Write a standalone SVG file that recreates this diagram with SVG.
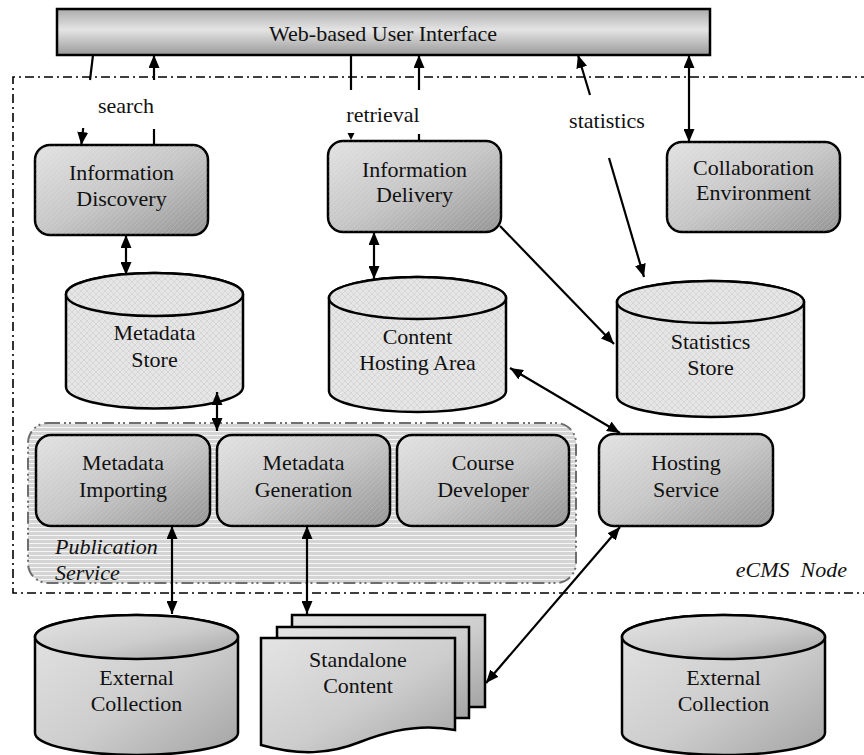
<svg xmlns="http://www.w3.org/2000/svg" width="864" height="755" viewBox="0 0 864 755">
<style>
  text { font-family: "Liberation Serif", "Times New Roman", serif; font-size: 22px; fill: #111; }
  .c { text-anchor: middle; }
  .it { font-style: italic; }
  .box { fill: url(#boxGrad); stroke: #000; stroke-width: 2.5; }
  .cyl { fill: url(#cylPat); stroke: #000; stroke-width: 2.5; }
  .ext { fill: url(#extGrad); stroke: #000; stroke-width: 2.5; }
  .hatch { fill: url(#diag); stroke: none; pointer-events: none; }
  .ln { stroke: #000; stroke-width: 2.2; fill: none; }
  .a1 { marker-end: url(#arr); }
  .a2 { marker-start: url(#arr); marker-end: url(#arr); }
</style>
<defs>
  <linearGradient id="boxGrad" x1="0" y1="0" x2="1" y2="1">
    <stop offset="0" stop-color="#e2e2e2"/>
    <stop offset="0.5" stop-color="#c6c6c6"/>
    <stop offset="1" stop-color="#959595"/>
  </linearGradient>
  <linearGradient id="extGrad" x1="0" y1="0" x2="1" y2="1">
    <stop offset="0" stop-color="#e4e4e4"/>
    <stop offset="0.55" stop-color="#cdcdcd"/>
    <stop offset="1" stop-color="#a4a4a4"/>
  </linearGradient>
  <linearGradient id="barGrad" x1="0" y1="0" x2="0" y2="1">
    <stop offset="0" stop-color="#ababab"/>
    <stop offset="0.45" stop-color="#e4e4e4"/>
    <stop offset="1" stop-color="#9a9a9a"/>
  </linearGradient>
  <pattern id="cylPat" width="6" height="6" patternUnits="userSpaceOnUse">
    <rect width="6" height="6" fill="#e6e6e6"/>
    <path d="M0,0 L6,6 M6,0 L0,6" stroke="#d2d2d2" stroke-width="0.8"/>
  </pattern>
  <pattern id="diag" width="5" height="5" patternUnits="userSpaceOnUse">
    <path d="M0,5 L5,0" stroke="#ffffff" stroke-opacity="0.18" stroke-width="0.8"/>
  </pattern>
  <pattern id="stripes" width="4" height="4" patternUnits="userSpaceOnUse">
    <rect width="4" height="4" fill="#d4d4d4"/>
    <rect y="3" width="4" height="1" fill="#f6f6f6"/>
  </pattern>
  <marker id="arr" markerUnits="userSpaceOnUse" markerWidth="13" markerHeight="11" viewBox="0 0 13 11" refX="13" refY="5.5" orient="auto-start-reverse">
    <path d="M0,0 L13,5.5 L0,11 Z" fill="#000"/>
  </marker>
</defs>

<rect width="864" height="755" fill="#fff"/>

<!-- eCMS Node boundary -->
<g id="ecms-node">
  <path d="M870,77 H13 V593 H870" fill="none" stroke="#000" stroke-width="1.6" stroke-dasharray="9,4,2,4"/>
  <text x="847" y="577" text-anchor="end" class="it" xml:space="preserve">eCMS  Node</text>
</g>

<!-- Publication Service group -->
<g id="publication-service">
  <rect x="28" y="423" width="548" height="160" rx="20" fill="url(#stripes)" stroke="#6e6e6e" stroke-width="2" stroke-dasharray="12,4,2,3,2,4"/>
  <text x="55" y="554" class="it">Publication</text>
  <text x="55" y="580" class="it">Service</text>
</g>

<!-- Web-based User Interface -->
<g id="web-ui">
  <rect x="57" y="9" width="653" height="46" fill="url(#barGrad)" stroke="#000" stroke-width="2.5"/>
  <text x="383" y="41" class="c">Web-based User Interface</text>
</g>

<g id="information-discovery">
  <rect x="35" y="145" width="173" height="90" rx="15" class="box"/>
  <rect x="35" y="145" width="173" height="90" rx="15" class="hatch"/>
  <text x="121.5" y="180" class="c">Information</text>
  <text x="121.5" y="206" class="c">Discovery</text>
</g>

<g id="information-delivery">
  <rect x="328" y="141" width="173" height="91" rx="15" class="box"/>
  <rect x="328" y="141" width="173" height="91" rx="15" class="hatch"/>
  <text x="414.5" y="177" class="c">Information</text>
  <text x="414.5" y="202" class="c">Delivery</text>
</g>

<g id="collaboration-environment">
  <rect x="667" y="142" width="173" height="90" rx="15" class="box"/>
  <rect x="667" y="142" width="173" height="90" rx="15" class="hatch"/>
  <text x="753.5" y="175" class="c">Collaboration</text>
  <text x="753.5" y="200" class="c">Environment</text>
</g>

<g id="metadata-store">
  <path d="M66,294.5 V387 A88.5,21.5 0 0 0 243,387 V294.5 A88.5,21.5 0 0 0 66,294.5 Z" class="cyl"/>
  <ellipse cx="154.5" cy="294.5" rx="88.5" ry="21.5" class="cyl"/>
  <text x="154.5" y="340" class="c">Metadata</text>
  <text x="154.5" y="367" class="c">Store</text>
</g>

<g id="content-hosting-area">
  <path d="M329,298 V391 A88.5,21 0 0 0 506,391 V298 A88.5,21 0 0 0 329,298 Z" class="cyl"/>
  <ellipse cx="417.5" cy="298" rx="88.5" ry="21" class="cyl"/>
  <text x="417.5" y="344" class="c">Content</text>
  <text x="417.5" y="370" class="c">Hosting Area</text>
</g>

<g id="statistics-store">
  <path d="M617,302 V396 A93.5,21 0 0 0 804,396 V302 A93.5,21 0 0 0 617,302 Z" class="cyl"/>
  <ellipse cx="710.5" cy="302" rx="93.5" ry="21" class="cyl"/>
  <text x="710.5" y="349" class="c">Statistics</text>
  <text x="710.5" y="375" class="c">Store</text>
</g>

<g id="metadata-importing">
  <rect x="36" y="435" width="174" height="91" rx="15" class="box"/>
  <rect x="36" y="435" width="174" height="91" rx="15" class="hatch"/>
  <text x="123" y="470" class="c">Metadata</text>
  <text x="123" y="497" class="c">Importing</text>
</g>

<g id="metadata-generation">
  <rect x="217" y="435" width="173" height="91" rx="15" class="box"/>
  <rect x="217" y="435" width="173" height="91" rx="15" class="hatch"/>
  <text x="303.5" y="470" class="c">Metadata</text>
  <text x="303.5" y="497" class="c">Generation</text>
</g>

<g id="course-developer">
  <rect x="397" y="435" width="172" height="91" rx="15" class="box"/>
  <rect x="397" y="435" width="172" height="91" rx="15" class="hatch"/>
  <text x="483" y="470" class="c">Course</text>
  <text x="483" y="497" class="c">Developer</text>
</g>

<g id="hosting-service">
  <rect x="599" y="434" width="174" height="92" rx="15" class="box"/>
  <rect x="599" y="434" width="174" height="92" rx="15" class="hatch"/>
  <text x="686" y="470" class="c">Hosting</text>
  <text x="686" y="497" class="c">Service</text>
</g>

<g id="external-collection-1">
  <path d="M35,637 V733 A101.5,22 0 0 0 238,733 V637 A101.5,22 0 0 0 35,637 Z" class="ext"/>
  <ellipse cx="136.5" cy="637" rx="101.5" ry="22" class="ext"/>
  <text x="136.5" y="685" class="c">External</text>
  <text x="136.5" y="711" class="c">Collection</text>
</g>

<g id="external-collection-2">
  <path d="M622,637 V733 A101.5,22 0 0 0 825,733 V637 A101.5,22 0 0 0 622,637 Z" class="ext"/>
  <ellipse cx="723.5" cy="637" rx="101.5" ry="22" class="ext"/>
  <text x="723.5" y="685" class="c">External</text>
  <text x="723.5" y="711" class="c">Collection</text>
</g>

<g id="standalone-content">
  <path d="M292,627 V615 H485 V707 H469" class="ext"/>
  <path d="M277,638 V627 H469 V718 H455" class="ext"/>
  <path d="M261,638 H455 V730 C425,724 395,728 360,742 C330,754 300,756 261,745 Z" class="ext"/>
  <text x="358" y="667" class="c">Standalone</text>
  <text x="358" y="693" class="c">Content</text>
</g>

<!-- Connectors -->
<g id="connectors">
  <!-- search -->
  <line x1="93" y1="55" x2="90" y2="80" class="ln"/>
  <line x1="83.2" y1="128" x2="81.3" y2="145" class="ln a1"/>
  <line x1="154" y1="80" x2="154" y2="55" class="ln a1"/>
  <line x1="154" y1="145" x2="154" y2="129" class="ln"/>
  <text x="126" y="113" class="c">search</text>
  <!-- retrieval -->
  <line x1="351" y1="55" x2="351" y2="90" class="ln"/>
  <path d="M347.5,133 L354.5,133 L351,140 Z" fill="#000"/>
  <line x1="419" y1="90" x2="419" y2="55" class="ln a1"/>
  <line x1="419" y1="141" x2="419" y2="134" class="ln"/>
  <text x="383" y="122" class="c">retrieval</text>
  <!-- statistics -->
  <line x1="590" y1="95" x2="578" y2="55" class="ln a1"/>
  <line x1="609" y1="158" x2="644" y2="277" class="ln a1"/>
  <text x="607" y="128" class="c">statistics</text>
  <!-- collaboration -->
  <line x1="689" y1="55" x2="689" y2="142" class="ln a2"/>
  <!-- discovery <-> metadata store -->
  <line x1="126" y1="235" x2="126" y2="275" class="ln a2"/>
  <!-- delivery <-> content hosting -->
  <line x1="374" y1="232" x2="374" y2="279" class="ln a2"/>
  <!-- delivery -> statistics store -->
  <line x1="500" y1="226" x2="614" y2="344" class="ln a1"/>
  <!-- content hosting <-> hosting service -->
  <line x1="510" y1="368" x2="620" y2="433" class="ln a2"/>
  <!-- metadata store <-> metadata generation -->
  <line x1="217" y1="392" x2="217" y2="431" class="ln a2"/>
  <!-- metadata importing <-> external collection -->
  <line x1="172" y1="526" x2="172" y2="614" class="ln a2"/>
  <!-- metadata generation <-> standalone content -->
  <line x1="307" y1="526" x2="307" y2="614" class="ln a2"/>
  <!-- hosting service <-> standalone content -->
  <line x1="620" y1="527" x2="486" y2="683" class="ln a2"/>
</g>
</svg>
